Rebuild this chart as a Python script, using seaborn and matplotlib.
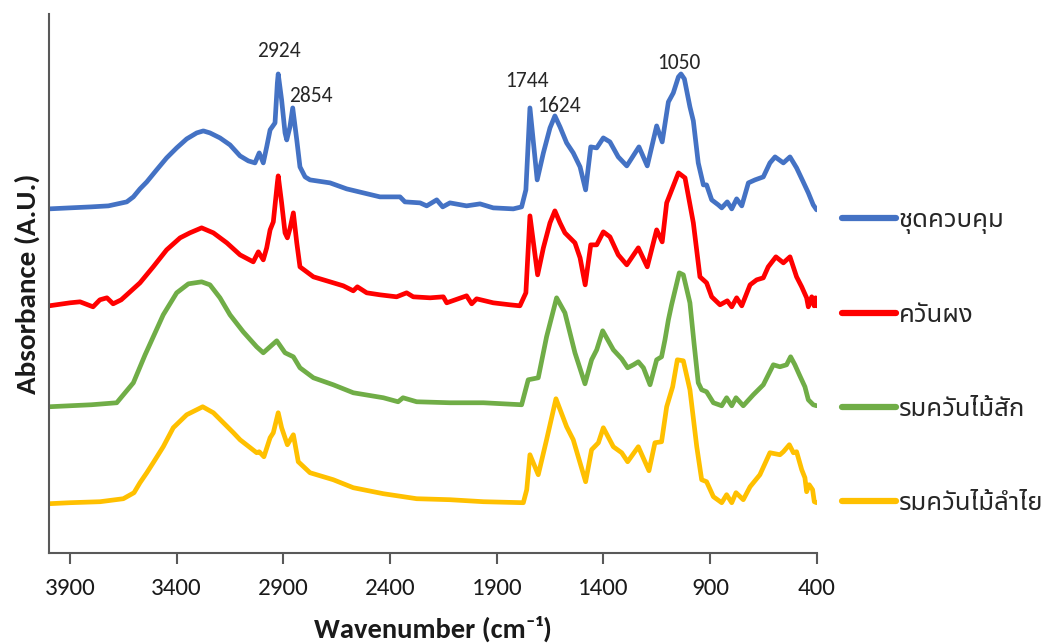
import matplotlib
matplotlib.use("Agg")
import matplotlib.pyplot as plt
from matplotlib.lines import Line2D
import seaborn as sns
import pandas as pd

# ---------------- data ----------------
labels = ["ชุดควบคุม", "ควันผง", "รมควันไม้สัก", "รมควันไม้ลำไย"]
colors = ["#4472C4", "#FF0000", "#70AD47", "#FFC000"]

wn_control = [3998, 3900, 3800, 3720, 3634, 3603, 3572, 3540, 3494, 3447, 3400, 3353,
              3306, 3275, 3244, 3197, 3150, 3103, 3064, 3033, 3013, 2994, 2978, 2962,
              2939, 2928, 2924, 2908, 2892, 2884, 2869, 2856, 2837, 2822, 2798, 2775,
              2681, 2603, 2525, 2447, 2353, 2330, 2259, 2228, 2181, 2153, 2119, 2041,
              1978, 1916, 1822, 1783, 1763, 1744, 1710, 1681, 1650, 1627, 1603, 1572,
              1541, 1509, 1483, 1459, 1431, 1400, 1369, 1330, 1290, 1233, 1194, 1150,
              1124, 1095, 1072, 1048, 1036, 1020, 994, 978, 955, 931, 916, 892, 861,
              845, 819, 798, 775, 751, 720, 689, 650, 619, 595, 556, 525, 494, 463,
              439, 416, 400]
ab_control = [3.44, 3.45, 3.46, 3.47, 3.51, 3.56, 3.64, 3.71, 3.83, 3.95, 4.05, 4.14,
              4.20, 4.22, 4.20, 4.15, 4.08, 3.97, 3.92, 3.90, 4.00, 3.90, 4.06, 4.23,
              4.30, 4.70, 4.79, 4.53, 4.20, 4.13, 4.26, 4.45, 4.13, 3.86, 3.76, 3.73,
              3.70, 3.64, 3.60, 3.56, 3.56, 3.51, 3.50, 3.47, 3.53, 3.46, 3.50, 3.47,
              3.49, 3.45, 3.44, 3.46, 3.63, 4.45, 3.73, 4.00, 4.25, 4.37, 4.26, 4.10,
              4.00, 3.86, 3.63, 4.06, 4.05, 4.15, 4.11, 3.96, 3.87, 4.06, 3.87, 4.27,
              4.11, 4.51, 4.60, 4.76, 4.79, 4.74, 4.46, 4.32, 3.90, 3.68, 3.68, 3.53,
              3.48, 3.45, 3.51, 3.44, 3.54, 3.47, 3.70, 3.73, 3.76, 3.90, 3.96, 3.90,
              3.96, 3.85, 3.71, 3.60, 3.48, 3.43]

wn_smoke = [3998, 3900, 3853, 3792, 3760, 3727, 3698, 3660, 3634, 3572, 3510, 3447,
            3384, 3338, 3283, 3228, 3165, 3103, 3041, 3017, 2994, 2978, 2962, 2947,
            2928, 2924, 2908, 2892, 2881, 2868, 2853, 2837, 2822, 2759, 2681, 2619,
            2572, 2553, 2509, 2447, 2369, 2322, 2291, 2212, 2150, 2134, 2041, 2017,
            1994, 1916, 1837, 1791, 1763, 1744, 1708, 1681, 1650, 1627, 1603, 1580,
            1533, 1509, 1485, 1459, 1431, 1400, 1369, 1330, 1290, 1236, 1194, 1150,
            1124, 1103, 1048, 1017, 978, 947, 916, 892, 853, 819, 798, 775, 751, 712,
            681, 650, 627, 591, 556, 525, 494, 470, 447, 439, 423, 412, 405, 400]
ab_smoke = [2.47, 2.50, 2.51, 2.46, 2.53, 2.55, 2.49, 2.53, 2.58, 2.70, 2.86, 3.03,
            3.15, 3.20, 3.25, 3.20, 3.10, 2.98, 2.91, 3.01, 2.93, 3.05, 3.23, 3.31,
            3.70, 3.77, 3.50, 3.20, 3.15, 3.25, 3.40, 3.10, 2.86, 2.76, 2.71, 2.67,
            2.62, 2.66, 2.60, 2.58, 2.56, 2.60, 2.56, 2.55, 2.56, 2.50, 2.57, 2.49,
            2.54, 2.50, 2.48, 2.47, 2.60, 3.37, 2.78, 3.05, 3.30, 3.42, 3.30, 3.20,
            3.10, 2.95, 2.68, 3.08, 3.08, 3.21, 3.16, 2.98, 2.88, 3.05, 2.86, 3.23,
            3.11, 3.50, 3.80, 3.75, 3.30, 2.76, 2.70, 2.56, 2.48, 2.52, 2.46, 2.55,
            2.47, 2.68, 2.73, 2.75, 2.86, 2.96, 2.90, 2.96, 2.76, 2.66, 2.55, 2.46,
            2.56, 2.47, 2.55, 2.47]

wn_teak = [3998, 3900, 3800, 3681, 3603, 3548, 3463, 3400, 3345, 3283, 3244, 3197,
           3150, 3088, 3025, 2994, 2931, 2892, 2853, 2822, 2759, 2666, 2572, 2431,
           2362, 2339, 2275, 2119, 1962, 1783, 1752, 1705, 1666, 1619, 1580, 1533,
           1486, 1455, 1431, 1403, 1353, 1314, 1286, 1259, 1236, 1212, 1181, 1150,
           1127, 1111, 1095, 1080, 1044, 1025, 994, 975, 955, 939, 916, 884, 845,
           822, 798, 778, 744, 697, 650, 603, 572, 541, 522, 502, 481, 455, 439,
           416, 400]
ab_teak = [1.46, 1.47, 1.48, 1.50, 1.70, 1.98, 2.38, 2.60, 2.69, 2.71, 2.68, 2.55,
           2.38, 2.21, 2.06, 2.00, 2.12, 2.00, 1.96, 1.85, 1.75, 1.68, 1.60, 1.55,
           1.51, 1.55, 1.51, 1.50, 1.50, 1.48, 1.73, 1.75, 2.16, 2.55, 2.40, 2.00,
           1.69, 1.93, 2.03, 2.22, 2.03, 1.94, 1.85, 1.88, 1.91, 1.85, 1.68, 1.93,
           1.96, 2.13, 2.33, 2.48, 2.80, 2.78, 2.50, 2.10, 1.70, 1.63, 1.61, 1.50,
           1.47, 1.55, 1.47, 1.55, 1.47, 1.58, 1.68, 1.88, 1.86, 1.88, 1.96, 1.88,
           1.78, 1.66, 1.53, 1.48, 1.47]

wn_longan = [3998, 3900, 3759, 3650, 3600, 3572, 3540, 3510, 3463, 3416, 3353, 3278,
             3228, 3181, 3134, 3103, 3025, 3013, 2991, 2962, 2947, 2924, 2908, 2881,
             2853, 2830, 2775, 2666, 2572, 2431, 2275, 2119, 1962, 1775, 1759, 1744,
             1705, 1666, 1622, 1572, 1541, 1483, 1455, 1423, 1400, 1353, 1314, 1286,
             1236, 1186, 1158, 1127, 1103, 1075, 1053, 1025, 994, 962, 939, 916, 884,
             845, 822, 798, 778, 744, 712, 666, 619, 572, 556, 528, 509, 494, 470,
             455, 447, 435, 419, 411, 400]
ab_longan = [0.49, 0.50, 0.51, 0.54, 0.60, 0.70, 0.80, 0.90, 1.06, 1.25, 1.38, 1.46,
             1.40, 1.30, 1.20, 1.13, 1.00, 1.01, 0.96, 1.15, 1.20, 1.40, 1.25, 1.08,
             1.18, 0.91, 0.80, 0.73, 0.65, 0.59, 0.54, 0.53, 0.51, 0.50, 0.63, 0.98,
             0.78, 1.13, 1.54, 1.26, 1.13, 0.71, 1.03, 1.10, 1.25, 1.06, 1.00, 0.91,
             1.06, 0.82, 1.10, 1.11, 1.46, 1.66, 1.93, 1.92, 1.63, 1.06, 0.73, 0.71,
             0.56, 0.50, 0.58, 0.50, 0.60, 0.53, 0.66, 0.78, 1.00, 0.98, 1.01, 1.08,
             1.00, 1.01, 0.83, 0.75, 0.61, 0.68, 0.63, 0.51, 0.50]

peak_labels = ["2924", "2854", "1744", "1624", "1050"]
peak_label_x = [2920, 2770, 1758, 1608, 1045]
peak_label_y = [5.02, 4.57, 4.72, 4.47, 4.90]

x_ticks = [3900, 3400, 2900, 2400, 1900, 1400, 900, 400]

# ---------------- build long table ----------------
frames = []
for lab, w, a in [(labels[0], wn_control, ab_control),
                  (labels[1], wn_smoke, ab_smoke),
                  (labels[2], wn_teak, ab_teak),
                  (labels[3], wn_longan, ab_longan)]:
    frames.append(pd.DataFrame({"wavenumber": w, "absorbance": a, "sample": lab}))
df = pd.concat(frames, ignore_index=True)

# ---------------- plot ----------------
sns.set_theme(style="white")
num_font = ["Carlito", "Liberation Sans", "DejaVu Sans"]
thai_font = ["Noto Sans Thai", "Loma", "DejaVu Sans"]
plt.rcParams["font.family"] = num_font

fig = plt.figure(figsize=(10.49, 6.44), dpi=100)
ax = fig.add_axes([0.0464, 0.1418, 0.7321, 0.8365])

sns.lineplot(data=df, x="wavenumber", y="absorbance", hue="sample",
             hue_order=labels, palette=colors, estimator=None, sort=True,
             linewidth=3.4, ax=ax, legend=False,
             solid_capstyle="round", solid_joinstyle="round")

ax.set_xlim(4000, 400)
ax.set_ylim(0, 5.39)
ax.set_xticks(x_ticks)
ax.set_xticklabels([str(t) for t in x_ticks])
ax.set_yticks([])

for s in ["top", "right"]:
    ax.spines[s].set_visible(False)
for s in ["left", "bottom"]:
    ax.spines[s].set_color("#595959")
    ax.spines[s].set_linewidth(1.5)

ax.tick_params(axis="x", direction="out", length=8, width=1.5, color="#595959",
               labelsize=18, labelcolor="#1a1a1a", pad=10, bottom=True)

ax.set_xlabel("Wavenumber (cm⁻¹)", fontsize=20.5, fontweight="bold",
              color="#1a1a1a", labelpad=12)
ax.set_ylabel("Absorbance (A.U.)", fontsize=21, fontweight="bold",
              color="#1a1a1a", labelpad=6)

for t, x, y in zip(peak_labels, peak_label_x, peak_label_y):
    ax.text(x, y, t, ha="center", va="center", fontsize=15.5, color="#262626")

handles = [Line2D([0], [0], color=c, lw=4.5, solid_capstyle="round") for c in colors]
leg = fig.legend(handles, labels, loc="upper left", bbox_to_anchor=(0.781, 0.713),
                 frameon=False, prop={"family": thai_font, "size": 18.5},
                 handlelength=2.07, handletextpad=0.12, labelspacing=2.68)

fig.savefig("out.png", dpi=100)
